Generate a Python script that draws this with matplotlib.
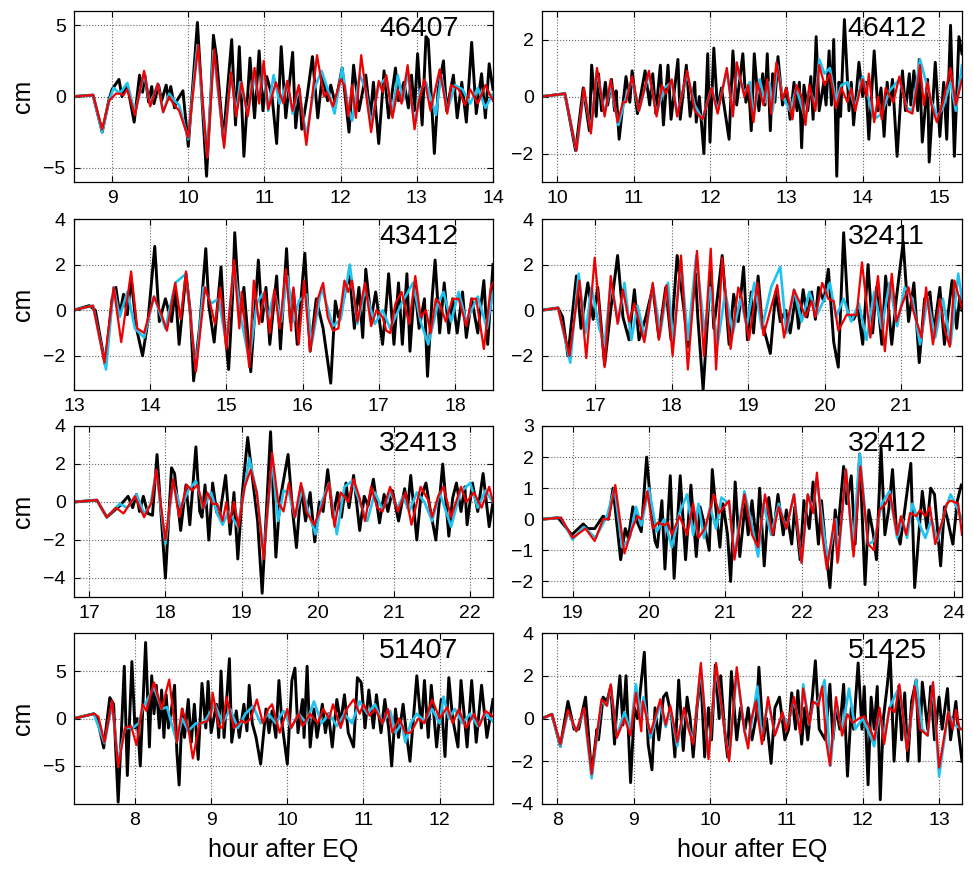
import matplotlib
matplotlib.use('Agg')
import matplotlib.pyplot as plt

plt.rcParams['font.family'] = ['Liberation Sans', 'DejaVu Sans']

# ---- 46407 ----
obs_46407 = [(8.5,0),(8.75,0.1),(8.87,-2.5),(8.96,-0.2),(9.0,0.5),(9.09,1.2),(9.13,0.0),(9.2,0.8),(9.29,-1.8),(9.36,1.5),(9.4,0.3),(9.43,1.5),(9.48,-0.4),(9.52,0.7),(9.55,-0.5),(9.61,0.8),(9.65,-0.3),(9.71,0.8),(9.74,-0.2),(9.77,0.7),(9.82,-0.8),(9.85,-0.3),(9.93,0.4),(10.0,-3.5),(10.12,5.2),(10.24,-5.6),(10.3,0.5),(10.33,4.3),(10.37,2.8),(10.46,-3.0),(10.57,4.0),(10.62,-2.0),(10.67,3.5),(10.73,-4.2),(10.81,2.7),(10.87,-1.5),(10.93,3.2),(10.98,-1.0),(11.03,1.4),(11.1,0.0),(11.16,-3.3),(11.22,3.5),(11.28,-1.5),(11.37,3.1),(11.41,-2.2),(11.46,0.5),(11.49,-2.3),(11.56,0.0),(11.63,2.8),(11.7,-1.5),(11.76,1.5),(11.83,-0.3),(11.87,0.8),(11.93,-0.5),(12.02,2.0),(12.11,-2.5),(12.17,2.2),(12.24,-1.0),(12.33,1.5),(12.39,-1.5),(12.43,1.0),(12.5,-3.3),(12.57,1.8),(12.63,-1.5),(12.72,2.0),(12.76,-0.3),(12.83,1.0),(12.89,-0.8),(12.93,1.5),(12.97,-1.0),(13.01,3.0),(13.07,-2.0),(13.12,4.2),(13.15,4.0),(13.23,-4.0),(13.28,0.5),(13.35,2.5),(13.39,-1.0),(13.48,1.5),(13.53,-1.5),(13.59,1.0),(13.65,-1.8),(13.72,3.8),(13.78,-1.2),(13.85,1.6),(13.9,-1.5),(13.95,2.3),(14.0,0.5)]
cyan_46407 = [(8.5,0),(8.75,0.1),(8.87,-2.5),(8.96,-0.3),(9.02,0.6),(9.1,0.2),(9.2,0.95),(9.3,-1.2),(9.42,1.6),(9.5,-0.6),(9.6,0.9),(9.67,-1.1),(9.75,0.2),(9.82,-0.3),(9.88,-0.6),(10.0,-3.0),(10.12,3.6),(10.25,-4.2),(10.33,3.2),(10.47,-3.4),(10.56,1.6),(10.63,-1.2),(10.68,1.0),(10.78,-1.2),(10.86,1.5),(10.93,-0.3),(10.98,2.0),(11.05,-1.0),(11.12,1.5),(11.2,-0.5),(11.3,1.0),(11.37,-1.2),(11.45,0.6),(11.55,-2.8),(11.65,0.5),(11.75,1.8),(11.83,0.5),(11.92,-1.2),(12.02,2.0),(12.1,-0.8),(12.15,-1.7),(12.25,1.5),(12.33,0.5),(12.4,-2.0),(12.5,0.8),(12.6,1.3),(12.68,-1.2),(12.75,1.5),(12.82,-0.3),(12.88,1.8),(12.97,-2.0),(13.05,0.5),(13.12,1.0),(13.25,-1.3),(13.32,1.5),(13.4,-1.0),(13.5,0.8),(13.6,0.5),(13.7,-0.5),(13.8,0.6),(13.9,-0.8),(14.0,0.2)]
red_46407 = [(8.5,0),(8.75,0.1),(8.87,-2.3),(8.96,-0.3),(9.05,0.2),(9.1,0.2),(9.15,0.1),(9.2,0.5),(9.3,-1.3),(9.42,1.8),(9.5,-0.7),(9.6,0.9),(9.67,-1.1),(9.75,0.0),(9.8,-0.5),(9.88,-1.0),(10.0,-2.9),(10.13,3.6),(10.25,-4.3),(10.34,3.3),(10.47,-3.6),(10.56,1.7),(10.63,-1.4),(10.7,1.0),(10.78,-1.4),(10.87,2.0),(10.93,-0.5),(10.99,2.5),(11.05,-0.9),(11.15,1.0),(11.25,-0.5),(11.3,1.1),(11.37,-1.0),(11.45,0.8),(11.55,-3.4),(11.69,2.9),(11.78,0.0),(11.82,0.3),(11.9,-0.7),(12.0,1.2),(12.05,0.8),(12.1,-1.4),(12.15,0.8),(12.2,-1.5),(12.27,2.9),(12.35,-0.5),(12.4,-2.5),(12.5,1.1),(12.55,0.3),(12.6,1.5),(12.68,-1.5),(12.75,0.5),(12.8,-0.5),(12.88,2.2),(12.97,-2.3),(13.02,-0.5),(13.1,1.2),(13.18,-1.0),(13.3,1.9),(13.4,-1.2),(13.45,0.8),(13.55,0.5),(13.63,-0.6),(13.7,0.5),(13.8,-0.5),(13.9,0.8),(14.0,-0.3)]

# ---- 46412 ----
obs_46412 = [(9.8,0),(10.1,0.1),(10.24,-1.9),(10.34,0.3),(10.42,-1.2),(10.45,1.1),(10.51,-0.7),(10.54,0.8),(10.58,-0.5),(10.63,0.5),(10.66,-0.3),(10.71,0.6),(10.75,-0.5),(10.77,0.2),(10.81,-1.5),(10.9,0.7),(10.95,-0.2),(10.98,0.9),(11.05,-0.6),(11.15,0.9),(11.21,-0.3),(11.25,0.8),(11.29,-0.6),(11.35,1.1),(11.39,-1.0),(11.45,1.1),(11.49,-0.8),(11.58,1.3),(11.61,-0.8),(11.69,1.1),(11.74,-0.7),(11.8,0.5),(11.82,-0.9),(11.86,0.0),(11.92,-2.0),(11.97,1.5),(12.0,-1.6),(12.05,1.7),(12.1,-0.5),(12.15,0.3),(12.25,-1.5),(12.3,1.6),(12.35,-0.3),(12.43,1.5),(12.47,-0.2),(12.51,0.2),(12.54,-1.2),(12.58,1.5),(12.64,-0.5),(12.69,0.8),(12.72,-0.3),(12.75,1.5),(12.79,-1.2),(12.82,0.8),(12.85,-0.2),(12.89,1.4),(12.95,-0.3),(13.0,0.3),(13.05,-0.8),(13.1,0.5),(13.14,-0.5),(13.17,0.5),(13.2,-1.8),(13.23,0.4),(13.28,-0.5),(13.32,0.7),(13.35,-0.8),(13.39,2.1),(13.43,-0.5),(13.49,0.5),(13.52,-0.3),(13.56,1.6),(13.59,-0.3),(13.62,2.0),(13.66,-2.8),(13.69,0.5),(13.71,-0.7),(13.76,2.7),(13.82,-0.5),(13.85,0.5),(13.88,-1.0),(13.95,1.2),(14.0,0.0),(14.04,0.5),(14.08,-1.5),(14.15,1.6),(14.2,-0.5),(14.24,0.3),(14.28,-1.4),(14.32,0.5),(14.35,-0.3),(14.39,0.6),(14.45,-2.1),(14.52,0.9),(14.56,-0.5),(14.61,0.8),(14.63,-0.3),(14.67,0.9),(14.72,-0.5),(14.74,1.3),(14.78,-1.6),(14.85,0.6),(14.87,-2.3),(14.95,1.2),(15.01,-1.4),(15.06,0.5),(15.1,-1.5),(15.15,2.5),(15.2,-2.1),(15.26,2.1),(15.3,1.5)]
cyan_46412 = [(9.8,0),(10.1,0.1),(10.25,-1.9),(10.35,0.2),(10.44,-1.2),(10.52,0.9),(10.62,-0.6),(10.7,0.4),(10.8,-1.0),(10.88,-0.2),(10.98,0.6),(11.07,-0.5),(11.2,0.8),(11.3,-0.6),(11.4,0.3),(11.5,0.5),(11.57,-0.6),(11.7,0.8),(11.8,-0.3),(11.9,-0.8),(12.02,0.3),(12.1,-0.5),(12.22,0.9),(12.3,-0.6),(12.35,1.0),(12.45,0.1),(12.52,0.5),(12.57,-0.7),(12.65,0.6),(12.72,-0.2),(12.78,0.5),(12.82,-0.5),(12.88,1.1),(12.95,0.0),(13.05,-0.5),(13.13,0.3),(13.25,-0.8),(13.3,0.3),(13.38,-0.3),(13.43,1.3),(13.5,0.8),(13.57,1.0),(13.65,-0.2),(13.72,0.4),(13.8,0.5),(13.9,-0.4),(14.0,0.7),(14.07,0.0),(14.15,-0.8),(14.25,-0.6),(14.35,0.2),(14.48,0.6),(14.58,-0.4),(14.65,-0.5),(14.75,1.3),(14.85,0.3),(14.9,-0.2),(14.98,-0.7),(15.05,-0.4),(15.15,0.5),(15.22,-0.5),(15.3,1.1)]
red_46412 = [(9.8,0),(10.1,0.1),(10.25,-1.9),(10.35,0.3),(10.44,-1.3),(10.52,1.0),(10.62,-0.7),(10.7,0.6),(10.79,-0.9),(10.86,-0.2),(10.9,-0.2),(10.98,0.7),(11.07,-0.5),(11.2,0.9),(11.3,-0.7),(11.37,0.4),(11.42,0.1),(11.5,0.6),(11.57,-0.7),(11.7,0.9),(11.8,-0.5),(11.9,-0.8),(12.02,0.3),(12.1,-0.6),(12.22,1.0),(12.3,-0.7),(12.35,1.2),(12.45,0.0),(12.5,0.4),(12.57,-0.9),(12.62,0.5),(12.7,-0.3),(12.75,0.6),(12.8,-0.6),(12.87,1.2),(12.95,-0.1),(13.0,0.3),(13.08,-0.8),(13.13,0.4),(13.2,0.0),(13.25,-1.0),(13.3,0.4),(13.38,-0.5),(13.43,1.1),(13.5,0.4),(13.57,0.8),(13.65,-0.4),(13.72,0.3),(13.8,-0.2),(13.85,0.3),(13.9,-0.5),(14.0,0.6),(14.05,0.0),(14.08,0.8),(14.15,-0.9),(14.2,0.0),(14.25,-0.8),(14.3,0.3),(14.4,-0.2),(14.48,0.7),(14.58,-0.5),(14.65,-0.6),(14.72,0.5),(14.75,1.1),(14.8,-0.3),(14.85,0.5),(14.9,-0.3),(14.97,-0.9),(15.05,-0.2),(15.15,1.0),(15.22,-0.3),(15.3,0.6)]

# ---- 43412 ----
obs_43412 = [(13.0,0),(13.2,0.2),(13.28,0.0),(13.41,-2.4),(13.5,0.5),(13.55,1.0),(13.6,-0.2),(13.65,0.7),(13.7,-0.2),(13.75,1.4),(13.82,-0.8),(13.9,-2.0),(13.97,-0.5),(14.06,2.8),(14.12,-0.5),(14.2,0.5),(14.28,-0.5),(14.33,0.9),(14.38,-1.5),(14.47,1.6),(14.53,-0.2),(14.57,-3.1),(14.65,-0.7),(14.73,2.7),(14.77,0.2),(14.84,-1.4),(14.93,1.9),(14.97,-0.5),(15.03,-2.6),(15.08,0.5),(15.11,3.4),(15.18,-0.5),(15.23,1.0),(15.32,-2.7),(15.42,2.2),(15.47,-0.5),(15.52,1.0),(15.57,-1.5),(15.66,1.5),(15.71,-1.7),(15.79,2.7),(15.84,-0.5),(15.88,0.9),(15.93,-1.5),(16.03,2.5),(16.1,-1.8),(16.18,0.5),(16.27,-0.8),(16.37,-3.2),(16.43,0.4),(16.47,-0.3),(16.52,0.2),(16.57,1.0),(16.62,1.5),(16.68,-0.8),(16.74,1.0),(16.79,-1.2),(16.83,1.8),(16.9,-0.4),(16.96,0.8),(17.05,-1.5),(17.1,0.3),(17.13,1.6),(17.2,-1.5),(17.26,1.2),(17.31,-1.5),(17.37,1.6),(17.41,-1.8),(17.47,1.1),(17.53,-0.8),(17.6,0.5),(17.64,-2.9),(17.7,0.5),(17.74,2.2),(17.8,-1.0),(17.86,1.2),(17.92,-1.0),(17.97,0.5),(18.03,-1.0),(18.1,0.8),(18.15,-1.2),(18.22,0.5),(18.3,-1.0),(18.38,1.3),(18.43,-1.5),(18.5,2.0)]
cyan_43412 = [(13.0,0),(13.25,0.2),(13.42,-2.6),(13.52,1.0),(13.6,-0.3),(13.7,0.8),(13.8,-0.8),(13.92,-1.2),(14.05,0.6),(14.2,-0.8),(14.33,1.2),(14.47,1.6),(14.6,-2.6),(14.7,1.0),(14.8,0.3),(14.9,0.5),(15.0,-1.5),(15.1,2.0),(15.2,-0.5),(15.3,-2.2),(15.4,0.3),(15.47,0.7),(15.55,-0.3),(15.63,0.8),(15.72,-0.5),(15.8,1.5),(15.88,-0.5),(15.95,0.4),(16.05,0.7),(16.12,-1.5),(16.25,1.0),(16.4,-0.7),(16.5,-0.4),(16.62,2.0),(16.72,-0.6),(16.82,0.9),(16.95,-0.6),(17.05,0.0),(17.15,-0.8),(17.3,0.3),(17.45,1.2),(17.55,-0.5),(17.65,-1.5),(17.78,0.3),(17.85,0.8),(17.95,-0.5),(18.05,0.8),(18.15,-0.5),(18.3,0.6),(18.42,-0.8),(18.5,0.8)]
red_43412 = [(13.0,0),(13.25,0.2),(13.4,-2.3),(13.52,1.0),(13.62,-1.4),(13.75,1.7),(13.83,-0.8),(13.92,-1.0),(14.05,0.6),(14.15,-0.2),(14.22,-0.9),(14.33,1.2),(14.4,-0.4),(14.47,1.7),(14.6,-2.7),(14.72,1.0),(14.78,0.4),(14.85,-0.6),(14.92,1.0),(15.0,-1.7),(15.1,2.2),(15.17,-0.8),(15.2,0.8),(15.3,-2.5),(15.36,1.3),(15.43,-0.6),(15.5,0.8),(15.57,-1.0),(15.63,0.9),(15.7,-0.8),(15.78,1.8),(15.85,-0.9),(15.88,1.0),(15.95,-1.5),(16.02,1.3),(16.1,-1.8),(16.2,0.5),(16.27,1.2),(16.33,-0.3),(16.4,-0.9),(16.47,-0.8),(16.55,1.3),(16.6,0.8),(16.65,1.3),(16.72,-0.5),(16.82,1.2),(16.9,-0.7),(16.97,0.0),(17.05,-0.3),(17.1,-0.9),(17.15,-1.0),(17.22,0.3),(17.3,0.8),(17.4,-0.6),(17.48,1.5),(17.55,-0.3),(17.62,0.0),(17.68,-1.0),(17.75,0.5),(17.8,0.3),(17.88,-0.5),(17.97,0.5),(18.05,0.5),(18.15,-0.7),(18.22,0.5),(18.28,0.5),(18.38,-1.7),(18.47,1.0),(18.5,1.2)]

# ---- 32411 ----
obs_32411 = [(16.3,0),(16.51,0.1),(16.57,-0.3),(16.64,-2.0),(16.75,1.5),(16.81,-0.8),(16.9,1.2),(16.97,-0.4),(17.03,1.0),(17.12,-2.4),(17.2,0.0),(17.29,2.4),(17.36,-0.3),(17.44,-1.3),(17.51,0.9),(17.57,-1.3),(17.66,-0.3),(17.75,1.0),(17.83,-1.2),(17.92,1.0),(17.99,-1.3),(18.07,2.4),(18.16,0.0),(18.21,-1.6),(18.31,1.6),(18.34,-0.3),(18.41,-3.5),(18.51,1.8),(18.55,-0.8),(18.66,2.4),(18.75,-1.5),(18.81,0.7),(18.87,-0.5),(18.94,1.9),(18.99,-1.3),(19.04,0.8),(19.07,-1.0),(19.13,1.5),(19.18,-0.5),(19.29,-1.9),(19.36,0.8),(19.42,-0.5),(19.49,0.0),(19.55,-1.0),(19.62,0.6),(19.66,-0.8),(19.72,0.9),(19.77,-0.3),(19.83,0.8),(19.88,-0.4),(19.92,1.0),(19.99,0.4),(20.05,1.8),(20.12,-1.4),(20.18,-2.5),(20.25,3.4),(20.31,-0.2),(20.38,-0.4),(20.44,0.0),(20.5,-1.5),(20.57,2.0),(20.63,-1.0),(20.68,1.0),(20.75,-1.5),(20.8,1.5),(20.88,-1.5),(20.94,0.5),(21.03,3.0),(21.1,-0.5),(21.17,1.2),(21.24,-2.3),(21.31,0.5),(21.38,0.8),(21.43,-1.0),(21.51,1.0),(21.57,-1.5),(21.67,1.3),(21.73,-0.8),(21.77,0.6),(21.8,0.0)]
cyan_32411 = [(16.3,0),(16.51,0.1),(16.67,-2.3),(16.78,1.6),(16.87,-1.0),(16.95,1.0),(17.05,-0.8),(17.12,-1.5),(17.2,1.2),(17.3,-0.5),(17.38,1.2),(17.47,-1.3),(17.55,0.2),(17.65,-1.2),(17.75,1.1),(17.85,-1.0),(17.95,1.2),(18.02,-1.5),(18.12,2.2),(18.21,-1.3),(18.32,2.4),(18.43,-1.0),(18.5,1.0),(18.6,-1.5),(18.7,0.8),(18.8,-1.0),(18.9,0.5),(18.98,-0.7),(19.08,1.2),(19.18,-0.8),(19.3,1.0),(19.42,1.9),(19.5,-1.0),(19.6,0.9),(19.7,-0.5),(19.8,0.8),(19.9,-0.2),(20.0,0.5),(20.07,1.2),(20.15,-0.3),(20.25,0.5),(20.35,-0.5),(20.45,0.3),(20.55,-1.3),(20.65,0.8),(20.75,-0.8),(20.85,1.2),(20.95,-0.7),(21.05,1.0),(21.15,0.5),(21.25,-1.5),(21.35,0.5),(21.45,-1.2),(21.55,0.5),(21.65,-1.5),(21.75,1.6),(21.8,0.5)]
red_32411 = [(16.3,0),(16.51,0.1),(16.66,-2.0),(16.79,1.3),(16.88,-2.1),(16.99,2.3),(17.12,-2.5),(17.2,1.5),(17.29,-0.6),(17.36,0.9),(17.44,-0.5),(17.51,0.3),(17.64,-1.4),(17.75,1.2),(17.83,-1.3),(17.93,1.1),(18.01,-2.0),(18.12,2.4),(18.21,-2.6),(18.33,2.6),(18.42,-2.0),(18.51,2.7),(18.58,-2.6),(18.66,2.3),(18.77,-1.7),(18.87,1.0),(18.92,0.5),(19.01,-1.3),(19.12,1.2),(19.2,-1.1),(19.38,1.1),(19.47,-1.2),(19.6,0.9),(19.68,0.3),(19.75,-0.3),(19.83,0.4),(19.88,-0.3),(19.97,1.2),(20.05,0.5),(20.12,0.4),(20.18,-0.9),(20.29,-0.2),(20.42,-0.2),(20.49,2.1),(20.6,-1.2),(20.7,1.5),(20.79,-1.8),(20.88,1.6),(20.94,-0.5),(21.01,0.2),(21.1,1.0),(21.16,0.0),(21.27,-1.2),(21.33,1.0),(21.42,-1.5),(21.51,0.5),(21.57,-0.8),(21.64,-1.6),(21.7,1.3),(21.8,0.1)]

# ---- 32413 ----
obs_32413 = [(16.8,0),(17.1,0.1),(17.23,-0.8),(17.4,-0.2),(17.51,0.3),(17.57,-0.3),(17.62,0.4),(17.66,-0.5),(17.71,0.3),(17.77,-0.6),(17.83,-0.7),(17.89,2.5),(18.0,-4.0),(18.08,1.8),(18.12,1.5),(18.2,-1.5),(18.27,0.9),(18.32,-1.2),(18.4,2.9),(18.45,-0.5),(18.48,-0.8),(18.52,0.9),(18.57,-2.0),(18.62,1.0),(18.67,-0.5),(18.71,-0.8),(18.79,1.4),(18.85,-1.7),(18.9,0.5),(18.95,-3.0),(19.01,0.5),(19.08,3.4),(19.15,1.0),(19.21,-1.0),(19.27,-4.8),(19.38,3.7),(19.45,-2.9),(19.5,0.0),(19.61,2.5),(19.67,-0.5),(19.72,-2.4),(19.78,0.8),(19.84,-1.0),(19.9,0.5),(19.96,-2.1),(20.02,0.0),(20.07,-0.5),(20.13,1.7),(20.2,-0.8),(20.26,0.5),(20.31,-0.8),(20.37,1.0),(20.41,-0.3),(20.47,1.4),(20.55,-1.5),(20.61,0.3),(20.66,-0.2),(20.73,1.2),(20.81,-1.1),(20.87,0.4),(20.92,-0.5),(20.98,0.6),(21.06,-1.0),(21.14,0.7),(21.18,-0.3),(21.22,1.4),(21.3,-2.0),(21.35,0.2),(21.42,1.0),(21.48,-0.5),(21.55,-2.0),(21.64,2.0),(21.72,-1.8),(21.77,0.2),(21.82,1.0),(21.88,-0.5),(21.93,0.8),(21.96,-1.2),(22.03,1.0),(22.1,-0.5),(22.17,1.5),(22.25,-1.3),(22.3,0.0)]
cyan_32413 = [(16.8,0),(17.1,0.1),(17.23,-0.8),(17.4,-0.1),(17.5,-0.3),(17.62,0.4),(17.72,-0.6),(17.8,-0.2),(17.88,1.6),(18.0,-2.2),(18.1,1.0),(18.2,-0.3),(18.3,0.6),(18.4,1.1),(18.5,-0.3),(18.6,0.5),(18.68,-0.6),(18.75,-1.2),(18.83,-0.5),(18.95,-1.3),(19.05,1.0),(19.1,2.3),(19.2,0.5),(19.29,-2.8),(19.4,2.2),(19.48,-1.0),(19.55,0.6),(19.62,0.5),(19.7,-0.8),(19.8,0.7),(19.88,-0.6),(19.97,-1.7),(20.05,0.0),(20.15,1.0),(20.25,-1.7),(20.35,0.8),(20.45,1.1),(20.55,0.0),(20.65,-1.0),(20.75,0.5),(20.85,-0.4),(20.95,0.5),(21.05,-0.3),(21.12,0.3),(21.2,-0.5),(21.3,0.5),(21.4,0.0),(21.5,-1.0),(21.6,0.5),(21.75,-1.3),(21.87,0.5),(22.0,1.0),(22.1,-0.3),(22.2,0.6),(22.3,0.0)]
red_32413 = [(16.8,0),(17.1,0.1),(17.23,-0.8),(17.35,-0.3),(17.45,-0.6),(17.6,0.3),(17.72,-0.8),(17.82,0.0),(17.88,1.7),(18.0,-2.0),(18.1,1.2),(18.18,-0.8),(18.28,0.9),(18.35,0.6),(18.42,0.9),(18.5,-0.3),(18.55,0.5),(18.62,-0.1),(18.68,-0.1),(18.75,-1.0),(18.8,0.0),(18.84,-1.1),(18.9,0.0),(18.96,-1.3),(19.04,0.8),(19.12,1.7),(19.2,0.5),(19.29,-3.0),(19.4,2.6),(19.48,0.0),(19.55,-0.5),(19.62,1.0),(19.7,-0.8),(19.78,1.0),(19.85,-0.5),(19.95,-1.2),(20.05,-0.3),(20.15,1.0),(20.22,-1.3),(20.3,0.5),(20.4,0.0),(20.47,1.2),(20.55,0.2),(20.62,-1.0),(20.7,0.8),(20.78,-0.3),(20.85,-0.5),(20.95,0.8),(21.05,-0.5),(21.15,0.5),(21.23,-1.2),(21.35,0.8),(21.45,0.1),(21.5,-0.8),(21.58,0.3),(21.65,0.8),(21.75,-0.8),(21.88,0.8),(21.95,0.0),(22.05,0.5),(22.15,-0.3),(22.25,0.8),(22.3,0.0)]

# ---- 32412 ----
obs_32412 = [(18.6,0),(18.81,0.05),(18.99,-0.5),(19.14,-0.15),(19.2,-0.3),(19.29,-0.3),(19.4,0.1),(19.47,0.0),(19.53,1.0),(19.63,-1.3),(19.69,-0.3),(19.73,-0.6),(19.79,0.4),(19.85,-0.1),(19.9,-0.4),(19.97,2.0),(20.03,0.3),(20.08,-0.7),(20.11,-0.9),(20.17,0.6),(20.21,-1.6),(20.28,1.4),(20.33,-1.9),(20.41,1.4),(20.48,-1.3),(20.55,1.1),(20.62,-1.2),(20.67,0.4),(20.71,0.0),(20.79,-1.0),(20.83,1.6),(20.89,0.0),(20.93,-0.9),(20.97,0.5),(21.03,-0.5),(21.07,-2.0),(21.13,1.2),(21.19,-1.2),(21.26,0.5),(21.3,-0.5),(21.35,0.6),(21.41,-0.8),(21.45,1.0),(21.51,-1.5),(21.57,0.7),(21.63,-0.5),(21.69,0.8),(21.76,-0.5),(21.8,0.3),(21.87,-0.8),(21.91,0.4),(21.98,-1.3),(22.03,0.6),(22.1,-0.3),(22.15,1.2),(22.22,-0.8),(22.26,0.6),(22.31,-0.8),(22.37,-2.2),(22.44,0.3),(22.47,-0.5),(22.55,1.7),(22.59,0.5),(22.65,1.4),(22.7,-0.8),(22.76,2.1),(22.83,-2.1),(22.88,0.3),(22.94,-0.5),(22.98,-1.3),(23.04,2.3),(23.09,-0.5),(23.14,0.3),(23.19,1.6),(23.24,-0.3),(23.29,-0.8),(23.35,0.3),(23.43,1.8),(23.48,-2.2),(23.55,0.0),(23.58,0.9),(23.64,-0.3),(23.69,1.0),(23.74,0.8),(23.82,-1.5),(23.87,0.4),(23.91,0.0),(23.98,-0.8),(24.04,0.6),(24.09,1.1)]
cyan_32412 = [(18.6,0),(18.85,0.05),(19.0,-0.65),(19.15,-0.25),(19.3,-0.6),(19.45,0.1),(19.55,1.0),(19.65,-0.9),(19.75,-0.6),(19.83,0.4),(19.9,-0.2),(20.0,1.0),(20.1,-0.4),(20.2,0.0),(20.3,-0.9),(20.4,0.2),(20.5,0.8),(20.58,-0.5),(20.65,0.5),(20.72,-0.6),(20.8,0.4),(20.88,-0.3),(20.95,0.7),(21.05,0.5),(21.12,-1.2),(21.25,0.9),(21.35,-0.2),(21.43,-1.2),(21.5,0.5),(21.6,-0.5),(21.7,0.5),(21.8,-0.3),(21.9,0.8),(22.0,-1.4),(22.08,0.8),(22.15,0.3),(22.2,1.3),(22.3,-0.6),(22.35,-1.3),(22.45,0.0),(22.48,-1.3),(22.58,1.6),(22.67,-1.0),(22.76,2.1),(22.87,-0.8),(22.95,-0.7),(23.05,0.5),(23.15,0.9),(23.25,-0.6),(23.32,0.0),(23.38,-0.6),(23.45,0.5),(23.55,-0.2),(23.62,-0.6),(23.7,0.0),(23.78,-0.7),(23.88,0.3),(23.95,0.8),(24.05,0.3),(24.1,0.0)]
red_32412 = [(18.6,0),(18.85,0.05),(19.0,-0.6),(19.17,-0.3),(19.29,-0.7),(19.4,0.0),(19.47,0.0),(19.56,1.1),(19.68,-1.1),(19.78,-0.3),(19.85,0.1),(19.9,0.0),(19.98,0.9),(20.05,-0.3),(20.12,-0.1),(20.2,-0.2),(20.25,-0.1),(20.3,-0.5),(20.4,0.1),(20.5,-0.5),(20.58,0.5),(20.65,-0.6),(20.73,-0.3),(20.8,0.3),(20.85,0.8),(20.92,0.2),(21.05,0.6),(21.12,-1.3),(21.25,0.8),(21.35,-0.5),(21.43,-0.9),(21.52,0.8),(21.62,-0.5),(21.7,0.4),(21.8,-0.3),(21.9,0.8),(22.0,-1.4),(22.08,0.8),(22.15,0.2),(22.2,1.5),(22.27,-0.5),(22.33,-1.6),(22.43,0.0),(22.47,-1.4),(22.58,1.6),(22.68,-1.2),(22.77,1.7),(22.87,-0.8),(22.95,-1.0),(23.02,0.3),(23.1,0.5),(23.16,0.8),(23.25,-0.5),(23.3,0.1),(23.37,-0.5),(23.42,0.2),(23.5,0.1),(23.55,0.3),(23.62,0.1),(23.68,0.4),(23.75,-0.8),(23.85,0.0),(23.9,0.5),(23.95,0.6),(24.05,0.5),(24.1,-0.5)]

# ---- 51407 ----
obs_51407 = [(7.2,0),(7.46,0.5),(7.5,0.2),(7.59,-3.1),(7.67,2.2),(7.72,1.5),(7.78,-8.8),(7.83,0.0),(7.86,5.5),(7.9,-6.0),(7.96,6.0),(8.0,-1.0),(8.03,0.0),(8.07,-5.0),(8.14,8.0),(8.19,-3.0),(8.22,4.5),(8.25,0.5),(8.28,3.5),(8.32,-1.0),(8.35,3.0),(8.38,-2.0),(8.41,2.5),(8.44,-1.0),(8.48,1.0),(8.52,3.5),(8.55,-3.5),(8.58,-7.0),(8.62,1.0),(8.65,-2.0),(8.7,2.0),(8.74,-2.5),(8.78,1.5),(8.83,-4.3),(8.88,3.7),(8.93,-1.0),(8.96,3.9),(9.0,-1.5),(9.07,1.5),(9.1,-2.0),(9.13,5.0),(9.17,-2.0),(9.2,1.5),(9.24,6.3),(9.27,-2.5),(9.33,0.8),(9.37,-2.0),(9.43,1.5),(9.47,-1.3),(9.5,3.5),(9.54,-0.5),(9.59,-2.0),(9.65,-4.8),(9.72,1.0),(9.76,-1.5),(9.8,0.8),(9.85,-2.0),(9.89,4.0),(9.93,-0.5),(10.0,-4.8),(10.06,4.0),(10.1,5.3),(10.14,-1.5),(10.2,2.0),(10.22,-2.0),(10.26,5.5),(10.3,-3.0),(10.35,1.0),(10.39,-2.0),(10.46,1.5),(10.5,-1.5),(10.54,0.5),(10.59,-3.0),(10.65,2.0),(10.7,-0.5),(10.75,2.5),(10.8,-1.5),(10.87,-3.0),(10.92,4.3),(10.97,3.8),(11.02,-1.0),(11.07,3.0),(11.13,-1.0),(11.17,2.5),(11.23,-1.5),(11.28,2.0),(11.33,-1.0),(11.37,-5.0),(11.42,1.0),(11.46,-2.0),(11.52,1.5),(11.57,-2.0),(11.61,-4.5),(11.7,4.5),(11.76,-1.0),(11.8,4.0),(11.85,-2.0),(11.89,3.5),(11.96,-3.0),(12.02,2.0),(12.07,-4.0),(12.12,4.3),(12.17,0.0),(12.24,-3.0),(12.28,4.0),(12.36,-3.0),(12.42,4.0),(12.48,-2.5),(12.55,3.5),(12.62,-2.0),(12.7,2.0)]
cyan_51407 = [(7.2,0),(7.46,0.5),(7.6,-2.6),(7.7,1.5),(7.78,-4.5),(7.87,-1.0),(7.97,-1.0),(8.05,-0.5),(8.1,1.0),(8.25,3.3),(8.35,1.0),(8.42,1.2),(8.55,-2.5),(8.62,0.0),(8.7,-1.3),(8.8,-0.5),(8.9,-0.5),(9.0,0.8),(9.05,1.5),(9.15,-0.5),(9.25,1.0),(9.35,-1.0),(9.45,0.5),(9.55,1.3),(9.65,-0.5),(9.75,0.5),(9.85,-0.5),(9.95,0.8),(10.05,-1.0),(10.15,0.5),(10.25,-0.5),(10.35,1.8),(10.45,-0.5),(10.55,0.5),(10.65,-0.8),(10.75,0.5),(10.85,-0.5),(10.95,1.8),(11.05,0.5),(11.15,1.5),(11.25,-0.5),(11.35,0.8),(11.42,-1.5),(11.5,-0.5),(11.55,-2.5),(11.62,-0.5),(11.7,0.5),(11.8,-0.3),(11.9,1.0),(12.0,-0.5),(12.05,2.3),(12.12,0.0),(12.2,1.0),(12.3,-0.5),(12.4,0.5),(12.5,-0.8),(12.6,0.5),(12.7,-0.3)]
red_51407 = [(7.2,0),(7.46,0.5),(7.52,0.2),(7.6,-2.5),(7.7,1.9),(7.78,-5.1),(7.87,-1.0),(7.95,-0.8),(8.02,-2.8),(8.1,1.5),(8.15,0.8),(8.25,3.8),(8.35,1.0),(8.45,4.1),(8.55,-2.5),(8.62,1.0),(8.7,-1.0),(8.76,-4.2),(8.85,-0.5),(8.95,-0.3),(9.0,0.5),(9.02,2.7),(9.1,-0.8),(9.15,-1.0),(9.2,2.3),(9.3,-1.0),(9.4,-0.2),(9.45,-0.5),(9.52,0.0),(9.6,2.0),(9.68,-0.5),(9.75,1.0),(9.8,1.5),(9.9,-1.5),(10.0,1.0),(10.05,-1.0),(10.15,0.5),(10.2,-0.8),(10.3,0.5),(10.4,-0.5),(10.47,1.0),(10.55,0.0),(10.6,1.5),(10.7,-1.0),(10.78,1.0),(10.87,2.0),(10.95,0.5),(11.0,1.5),(11.08,0.3),(11.15,1.0),(11.25,-0.5),(11.32,1.0),(11.38,-1.5),(11.47,0.0),(11.55,-1.5),(11.62,-1.5),(11.72,0.0),(11.8,-0.5),(11.9,2.0),(12.0,0.0),(12.1,1.2),(12.17,-0.5),(12.25,1.0),(12.35,-1.0),(12.45,0.5),(12.52,-0.8),(12.6,0.8),(12.7,0.2)]

# ---- 51425 ----
obs_51425 = [(7.8,0),(7.93,0.2),(8.04,-1.3),(8.14,0.8),(8.22,-0.5),(8.28,-0.5),(8.37,1.0),(8.45,-2.6),(8.52,-0.5),(8.54,-1.0),(8.6,1.0),(8.65,0.8),(8.7,1.5),(8.75,-1.2),(8.77,0.0),(8.82,2.0),(8.86,-0.3),(8.9,2.0),(8.93,-0.5),(8.96,-3.0),(9.01,0.5),(9.05,0.0),(9.14,3.1),(9.19,-1.2),(9.24,-2.4),(9.28,0.5),(9.33,-1.0),(9.39,1.0),(9.43,1.2),(9.5,0.0),(9.54,-1.8),(9.59,1.8),(9.65,-1.5),(9.7,1.0),(9.74,0.0),(9.78,-1.8),(9.83,0.5),(9.88,2.0),(9.93,-1.8),(9.98,0.5),(10.02,-1.0),(10.07,2.5),(10.12,0.0),(10.14,2.0),(10.19,-0.5),(10.23,-1.8),(10.28,2.2),(10.35,-1.0),(10.4,0.5),(10.46,-0.5),(10.5,0.5),(10.55,-1.0),(10.61,0.2),(10.64,2.4),(10.7,-1.0),(10.74,0.0),(10.8,-2.1),(10.85,0.5),(10.91,1.0),(10.98,-1.0),(11.03,-0.5),(11.07,1.2),(11.12,-0.5),(11.15,1.3),(11.2,-1.2),(11.24,0.5),(11.28,-1.0),(11.34,1.0),(11.38,2.7),(11.43,-0.5),(11.51,-1.0),(11.57,1.6),(11.61,-1.0),(11.65,0.5),(11.7,-0.5),(11.75,1.6),(11.8,-2.7),(11.85,0.5),(11.88,-0.5),(11.94,2.6),(11.99,-0.5),(12.02,1.5),(12.07,-3.1),(12.11,1.0),(12.15,-0.5),(12.19,1.5),(12.23,-3.8),(12.27,0.0),(12.32,1.5),(12.36,3.0),(12.41,-2.0),(12.47,1.5),(12.51,-1.0),(12.55,1.2),(12.59,-2.0),(12.64,0.8),(12.7,1.8),(12.74,-2.0),(12.78,1.7),(12.85,-0.5),(12.89,1.5),(12.94,-1.0),(13.0,1.0),(13.04,-0.5),(13.11,1.4),(13.15,-1.0),(13.22,0.8),(13.25,-0.5),(13.3,-2.0)]
cyan_51425 = [(7.8,0),(7.93,0.2),(8.04,-1.3),(8.14,0.3),(8.25,-0.6),(8.35,0.4),(8.45,-2.8),(8.58,0.8),(8.65,0.6),(8.7,1.5),(8.78,-0.8),(8.88,0.3),(8.96,-0.6),(9.03,1.6),(9.1,0.0),(9.13,1.0),(9.22,-0.9),(9.35,0.7),(9.42,-0.4),(9.48,0.5),(9.57,-1.3),(9.66,0.4),(9.72,-0.4),(9.78,-1.1),(9.88,2.4),(9.98,-1.8),(10.08,2.4),(10.17,0.0),(10.25,-1.9),(10.35,2.2),(10.45,-0.5),(10.5,-1.2),(10.62,1.5),(10.68,-1.0),(10.76,0.8),(10.85,-0.7),(10.95,0.2),(11.02,-0.3),(11.1,0.9),(11.18,-0.5),(11.22,1.6),(11.3,-0.3),(11.35,0.7),(11.42,0.8),(11.5,1.8),(11.58,-2.2),(11.65,0.8),(11.73,-0.6),(11.82,1.4),(11.9,-0.5),(12.0,0.0),(12.05,-0.4),(12.1,-0.8),(12.15,-1.3),(12.22,0.4),(12.28,-1.0),(12.35,0.5),(12.48,1.5),(12.58,-1.4),(12.7,1.8),(12.78,-0.5),(12.85,-0.8),(12.92,1.6),(13.0,-2.7),(13.12,0.3),(13.2,-0.3),(13.3,-0.5)]
red_51425 = [(7.8,0),(7.93,0.2),(8.04,-1.2),(8.14,0.4),(8.25,-0.6),(8.35,0.5),(8.45,-2.6),(8.58,0.9),(8.65,0.6),(8.7,1.6),(8.78,-0.9),(8.88,0.0),(8.96,-0.8),(9.03,1.2),(9.1,-0.6),(9.12,0.8),(9.22,-0.7),(9.35,0.9),(9.42,-0.3),(9.48,0.6),(9.57,-1.1),(9.66,0.5),(9.72,-0.5),(9.78,-1.2),(9.88,2.6),(9.98,-1.9),(10.08,2.6),(10.17,0.0),(10.25,-2.0),(10.35,2.4),(10.45,-0.6),(10.5,-1.4),(10.53,-0.2),(10.6,0.8),(10.68,-1.2),(10.76,1.0),(10.85,-0.8),(10.95,0.3),(11.0,-0.6),(11.05,0.2),(11.1,1.0),(11.18,-0.7),(11.22,1.4),(11.3,-0.3),(11.35,0.8),(11.42,0.6),(11.47,1.5),(11.52,-1.0),(11.57,-2.2),(11.65,1.0),(11.73,-0.8),(11.8,0.2),(11.87,-0.2),(11.95,0.0),(12.02,0.1),(12.1,-0.5),(12.15,-1.0),(12.22,0.5),(12.28,-1.2),(12.35,0.5),(12.42,0.3),(12.48,1.6),(12.58,-1.5),(12.68,1.5),(12.75,-0.5),(12.85,-0.8),(12.92,1.7),(13.0,-2.3),(13.12,0.3),(13.18,-0.5),(13.22,0.4),(13.27,-0.5),(13.3,-0.5)]

stations = ['46407', '46412', '43412', '32411', '32413', '32412', '51407', '51425']
xlims = [(8.5, 14), (9.8, 15.3), (13, 18.5), (16.3, 21.8), (16.8, 22.3), (18.6, 24.1), (7.2, 12.7), (7.8, 13.3)]
ylims = [(-6, 6), (-3, 3), (-3.5, 4), (-3.5, 4), (-5, 4), (-2.5, 3), (-9, 9), (-4, 4)]
xticks = [range(9, 15), range(10, 16), range(13, 19), range(17, 22), range(17, 23), range(19, 25), range(8, 13), range(8, 14)]
yticks = [[-5, 0, 5], [-2, 0, 2], [-2, 0, 2, 4], [-2, 0, 2, 4], [-4, -2, 0, 2, 4], [-2, -1, 0, 1, 2, 3], [-5, 0, 5], [-4, -2, 0, 2, 4]]
obs_all = [obs_46407, obs_46412, obs_43412, obs_32411, obs_32413, obs_32412, obs_51407, obs_51425]
cyan_all = [cyan_46407, cyan_46412, cyan_43412, cyan_32411, cyan_32413, cyan_32412, cyan_51407, cyan_51425]
red_all = [red_46407, red_46412, red_43412, red_32411, red_32413, red_32412, red_51407, red_51425]

W, H = 973, 869
fig = plt.figure(figsize=(W / 100, H / 100), dpi=100)

cols = [(74, 493), (542, 962)]
rows = [(11, 182), (219, 390), (426, 597), (633, 804)]

for i, name in enumerate(stations):
    r, c = divmod(i, 2)
    x0, x1 = cols[c]
    y0, y1 = rows[r]
    ax = fig.add_axes([x0 / W, 1 - y1 / H, (x1 - x0) / W, (y1 - y0) / H])

    for data, col, lw in [(obs_all[i], 'black', 2.1), (cyan_all[i], '#1ec3f0', 1.9), (red_all[i], '#f00000', 1.6)]:
        t, v = zip(*data)
        ax.plot(t, v, color=col, lw=lw, solid_joinstyle='round')

    ax.set_xlim(*xlims[i])
    ax.set_ylim(*ylims[i])
    ax.set_xticks(list(xticks[i]))
    ax.set_yticks(yticks[i])
    ax.grid(True, ls=':', color='0.4', lw=0.8)
    ax.tick_params(direction='in', top=True, right=True, length=4, labelsize=14, pad=6)
    for s in ax.spines.values():
        s.set_linewidth(0.9)

    ax.text(0.728, 0.895, name, transform=ax.transAxes, fontsize=20.5, ha='left', va='center')

    if c == 0:
        ax.set_ylabel('cm', fontsize=18)
        ax.yaxis.set_label_coords(-0.093, 0.5)
    if r == 3:
        ax.set_xlabel('hour after EQ', fontsize=18, labelpad=6)

fig.savefig('out.png', dpi=100)
